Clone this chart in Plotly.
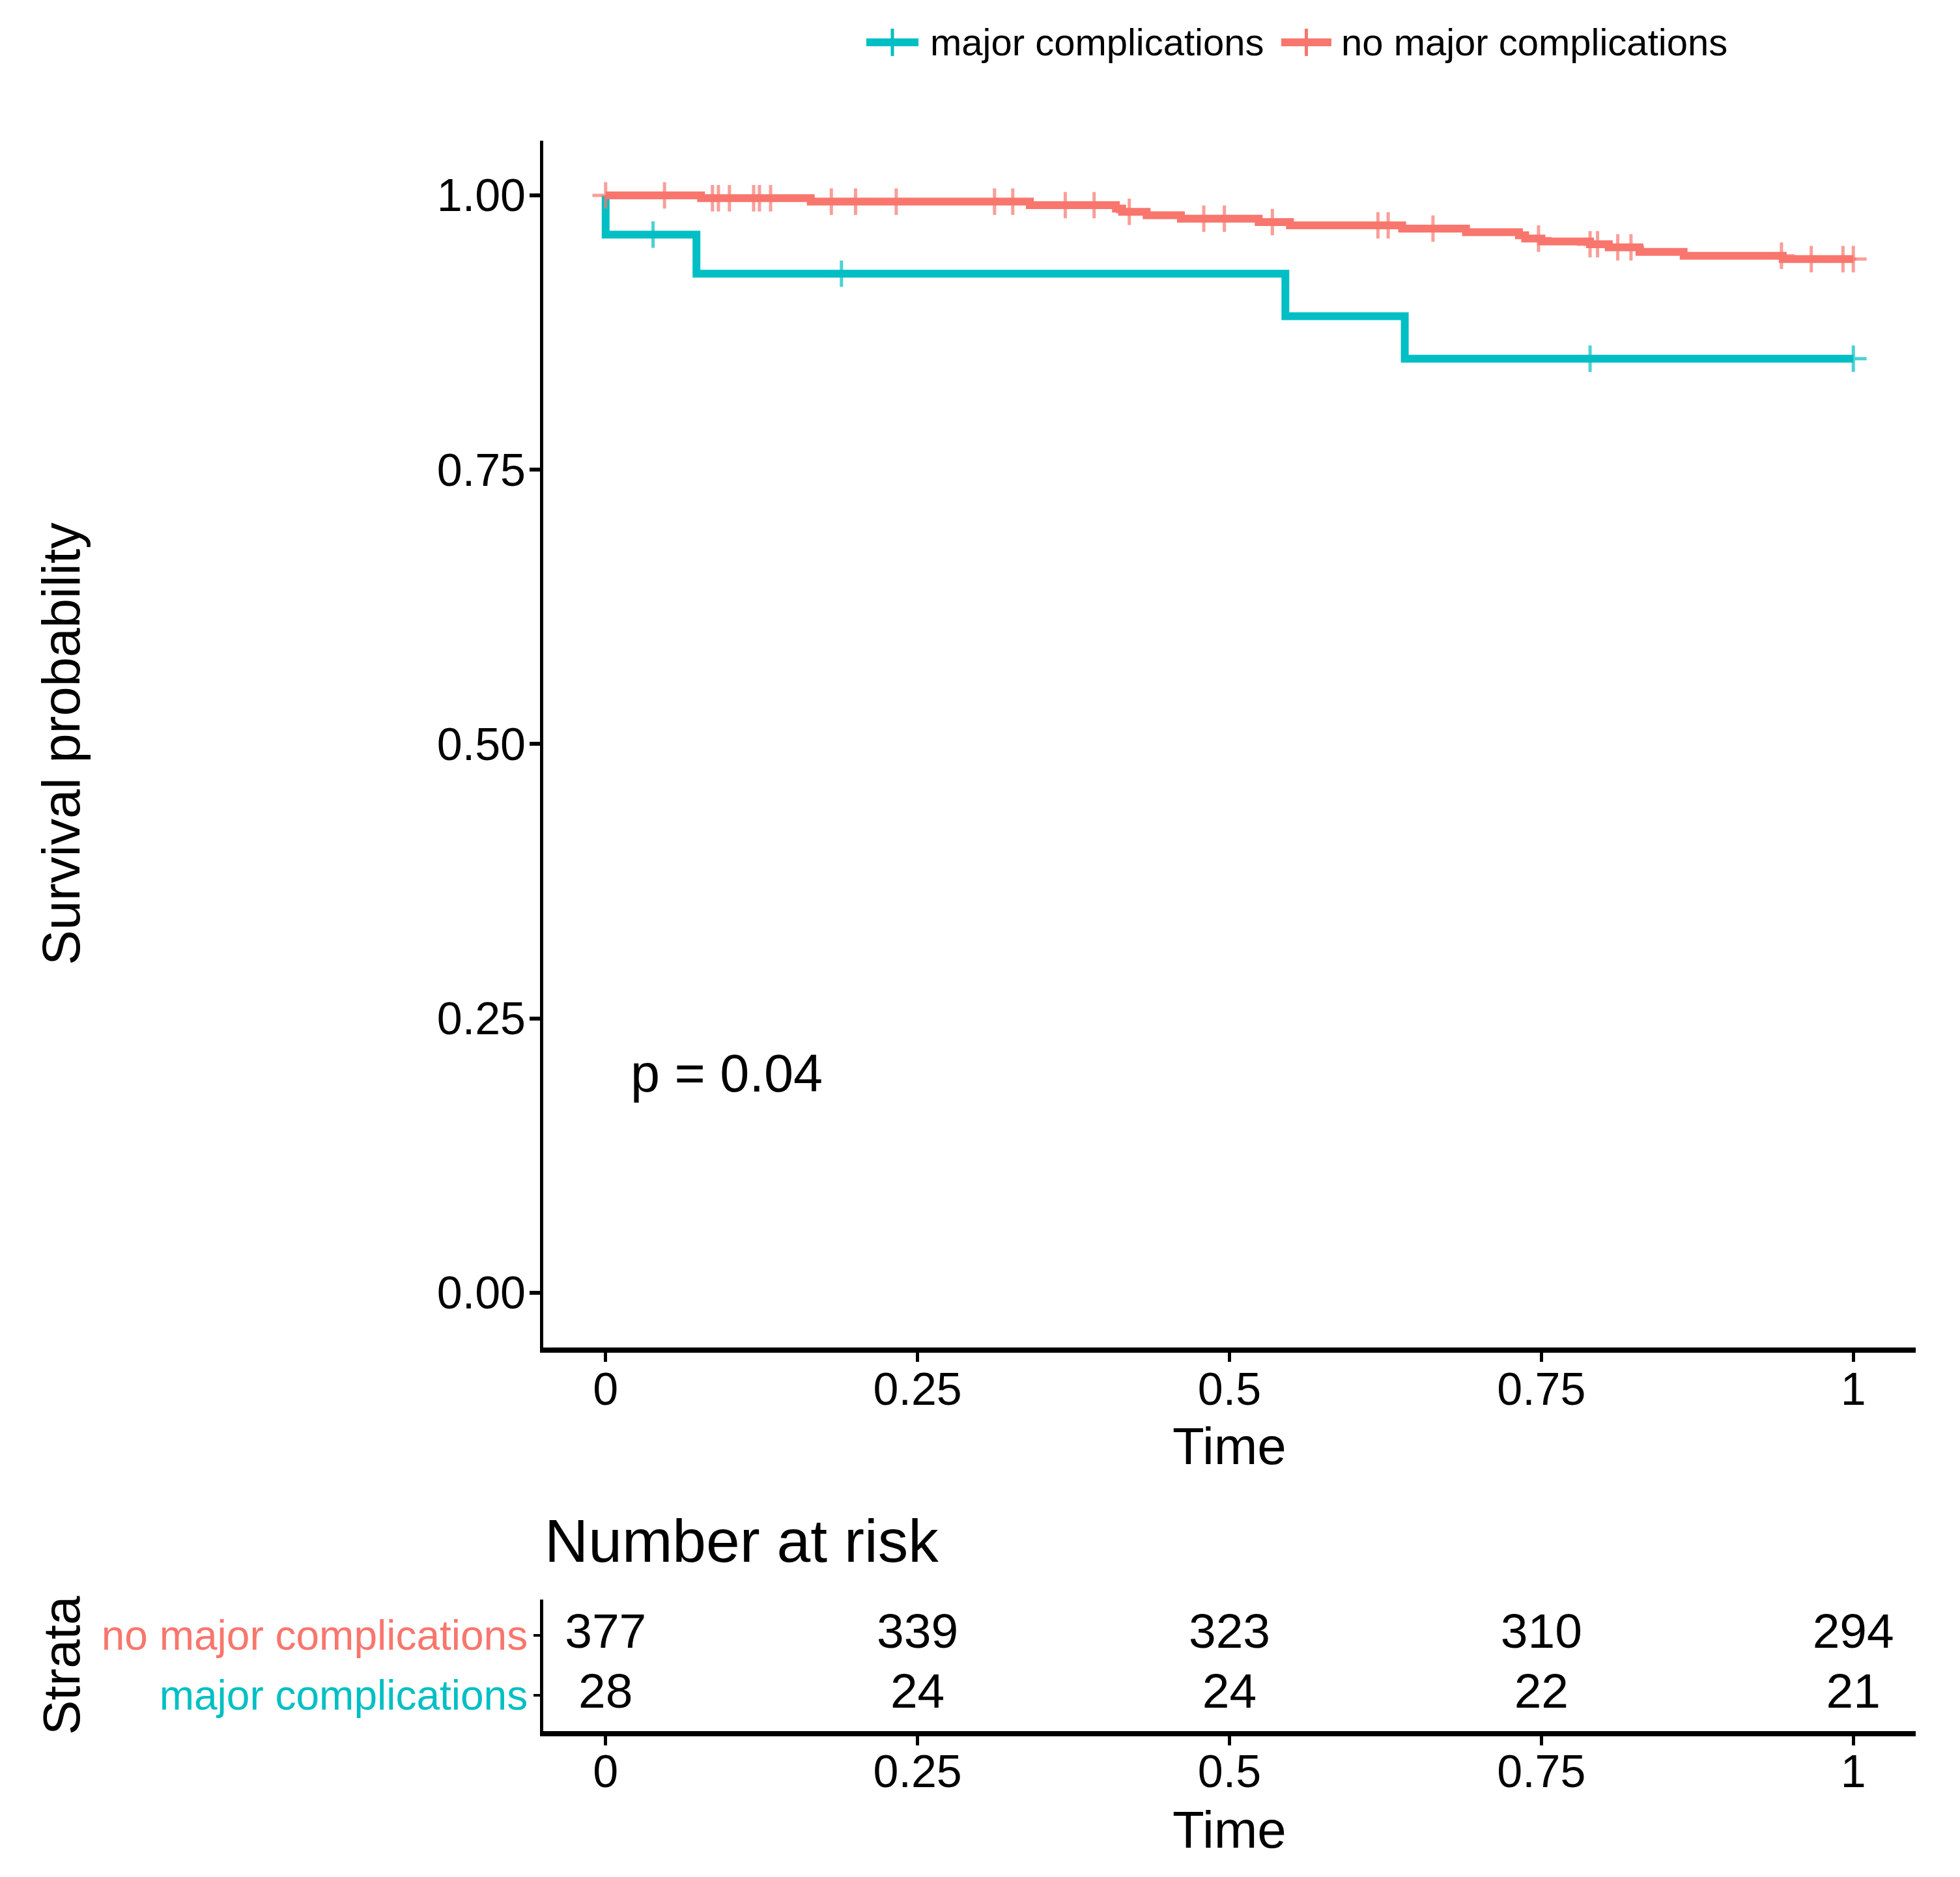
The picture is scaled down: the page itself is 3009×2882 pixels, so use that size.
import plotly.graph_objects as go

# ---------------- data ----------------
groups = ["major complications", "no major complications"]
colors = ["#00BFC4", "#F8766D"]

teal_step_t = [0, 0, 0.0728, 0.5448, 0.6405]
teal_step_s = [1.0, 0.9643, 0.9286, 0.8899, 0.8512]
teal_censor_t = [0.038, 0.189, 0.789, 1.0]

red_step_t = [0, 0.0765, 0.1644, 0.340, 0.409, 0.414, 0.4336, 0.4611, 0.5234, 0.5485,
              0.6384, 0.6896, 0.732, 0.737, 0.750, 0.789, 0.804, 0.8286, 0.864, 0.9434]
red_step_s = [1.0, 0.9974, 0.9943, 0.9911, 0.9880, 0.9850, 0.9819, 0.9788, 0.9757, 0.9727,
              0.9697, 0.9665, 0.9636, 0.9606, 0.9580, 0.9555, 0.9527, 0.9485, 0.9450, 0.9419]
red_censor_t = [0, 0.0472, 0.0856, 0.0904, 0.0992, 0.1186, 0.1233, 0.1322, 0.1809, 0.2003,
                0.2329, 0.3117, 0.3263, 0.3684, 0.3915, 0.4197, 0.4794, 0.4959, 0.5344, 0.619,
                0.6272, 0.6631, 0.7477, 0.789, 0.795, 0.8112, 0.8218, 0.9424, 0.9663, 0.9917, 1.0]

risk_times = [0, 0.25, 0.5, 0.75, 1]
risk_no_major = [377, 339, 323, 310, 294]
risk_major = [28, 24, 24, 22, 21]

x_ticks = [0, 0.25, 0.5, 0.75, 1]
x_ticktext = ["0", "0.25", "0.5", "0.75", "1"]
y_ticks = [0, 0.25, 0.5, 0.75, 1]
y_ticktext = ["0.00", "0.25", "0.50", "0.75", "1.00"]
p_text = "p = 0.04"

FONT = "Liberation Sans, Arial, Helvetica, sans-serif"
W, H = 3009, 2882
OFF = 8  # page body margin offset


def px(x):
    return (x - OFF) / W


def py(y):
    return 1 - (y - OFF) / H


def build_series(step_t, step_s, censor_t):
    pts = [(t, s, 0, i) for i, (t, s) in enumerate(zip(step_t, step_s))]
    for j, ct in enumerate(censor_t):
        lvl = step_s[0]
        for t, s in zip(step_t, step_s):
            if t <= ct:
                lvl = s
        pts.append((ct, lvl, 1, len(step_t) + j))
    pts.sort(key=lambda p: (p[0], p[2], p[3]))
    xs = [p[0] for p in pts]
    ys = [p[1] for p in pts]
    sizes = [29 if p[2] == 1 else 0 for p in pts]
    return xs, ys, sizes


fig = go.Figure()

series = [
    build_series(teal_step_t, teal_step_s, teal_censor_t),
    build_series(red_step_t, red_step_s, red_censor_t),
]
for name, col, (xs, ys, sizes) in zip(groups, colors, series):
    fig.add_trace(go.Scatter(
        x=xs, y=ys, name=name, mode="lines+markers",
        line=dict(color=col, width=12, shape="hv"),
        marker=dict(symbol="cross-thin", size=sizes, color=col,
                    line=dict(color=col, width=5)),
        xaxis="x", yaxis="y", showlegend=False,
    ))

# risk table numbers
for yy, vals in [(2, risk_no_major), (1, risk_major)]:
    fig.add_trace(go.Scatter(
        x=risk_times, y=[yy] * len(risk_times), mode="text",
        text=[str(v) for v in vals], textposition="middle center",
        textfont=dict(family=FONT, size=75, color="black"),
        showlegend=False, xaxis="x2", yaxis="y2", hoverinfo="skip",
    ))

xdom = [px(834), px(2941)]
main_ydom = [py(2069), py(215.75)]
risk_ydom = [py(2658), py(2456)]

axis_common = dict(showgrid=False, zeroline=False, showline=True, linecolor="black",
                   ticks="outside", tickcolor="black")
tf70 = dict(family=FONT, size=70, color="black")

fig.update_layout(
    width=W, height=H, margin=dict(l=0, r=0, t=0, b=0),
    paper_bgcolor="white", plot_bgcolor="white",
    font=dict(family=FONT, color="black"),
    xaxis=dict(domain=xdom, range=[-0.05, 1.05], tickvals=x_ticks, ticktext=x_ticktext,
               linewidth=8, ticklen=14, tickwidth=5, anchor="y", ticklabelstandoff=-18,
               tickfont=tf70, **axis_common),
    yaxis=dict(domain=main_ydom, range=[-0.05, 1.05], tickvals=y_ticks, ticktext=y_ticktext,
               linewidth=5, ticklen=16, tickwidth=6, anchor="x", ticklabelstandoff=-8,
               tickfont=tf70, **axis_common),
    xaxis2=dict(domain=xdom, range=[-0.05, 1.05], tickvals=x_ticks, ticktext=x_ticktext,
                linewidth=8, ticklen=14, tickwidth=5, anchor="y2", ticklabelstandoff=-20,
                tickfont=tf70, **axis_common),
    yaxis2=dict(domain=risk_ydom, range=[0.4, 2.6], tickvals=[1, 2],
                ticktext=['<span style="color:#00BFC4">major complications</span>',
                          '<span style="color:#F8766D">no major complications</span>'],
                linewidth=5, ticklen=10, tickwidth=4, anchor="x2", ticklabelstandoff=-4,
                tickfont=dict(family=FONT, size=64, color="black"), **axis_common),
    showlegend=False,
)

annots = [
    dict(text="Time", x=px(1887), y=py(2220), size=80),
    dict(text="Time", x=px(1887), y=py(2809), size=80),
    dict(text="Survival probability", x=px(94), y=py(1142), textangle=-90, size=81),
    dict(text="Strata", x=px(94), y=py(2557), textangle=-90, size=80),
    dict(text="Number at risk", x=px(834), y=py(2366), xanchor="left", size=93),
]
for a in annots:
    size = a.pop("size")
    a.setdefault("xanchor", "center")
    fig.add_annotation(xref="paper", yref="paper", showarrow=False, yanchor="middle",
                       font=dict(family=FONT, color="black", size=size), **a)

fig.add_annotation(xref="x", yref="y", x=0.019, y=0.200, text=p_text, showarrow=False,
                   xanchor="left", yanchor="middle",
                   font=dict(family=FONT, size=81, color="black"))

# legend (key glyphs + labels)
legend_items = [(1330, 1410, 1426), (1967, 2044, 2057)]
ly = 65
for name, col, (x0, x1, xt) in zip(groups, colors, legend_items):
    fig.add_shape(type="line", xref="paper", yref="paper", x0=px(x0), x1=px(x1),
                  y0=py(ly), y1=py(ly), line=dict(color=col, width=12))
    xc = (x0 + x1) / 2
    fig.add_shape(type="line", xref="paper", yref="paper", x0=px(xc), x1=px(xc),
                  y0=py(ly - 21), y1=py(ly + 21), line=dict(color=col, width=5))
    fig.add_annotation(xref="paper", yref="paper", x=px(xt), y=py(ly), text=name,
                       showarrow=False, xanchor="left", yanchor="middle",
                       font=dict(family=FONT, size=58, color="black"))

fig.write_html("out.html")
